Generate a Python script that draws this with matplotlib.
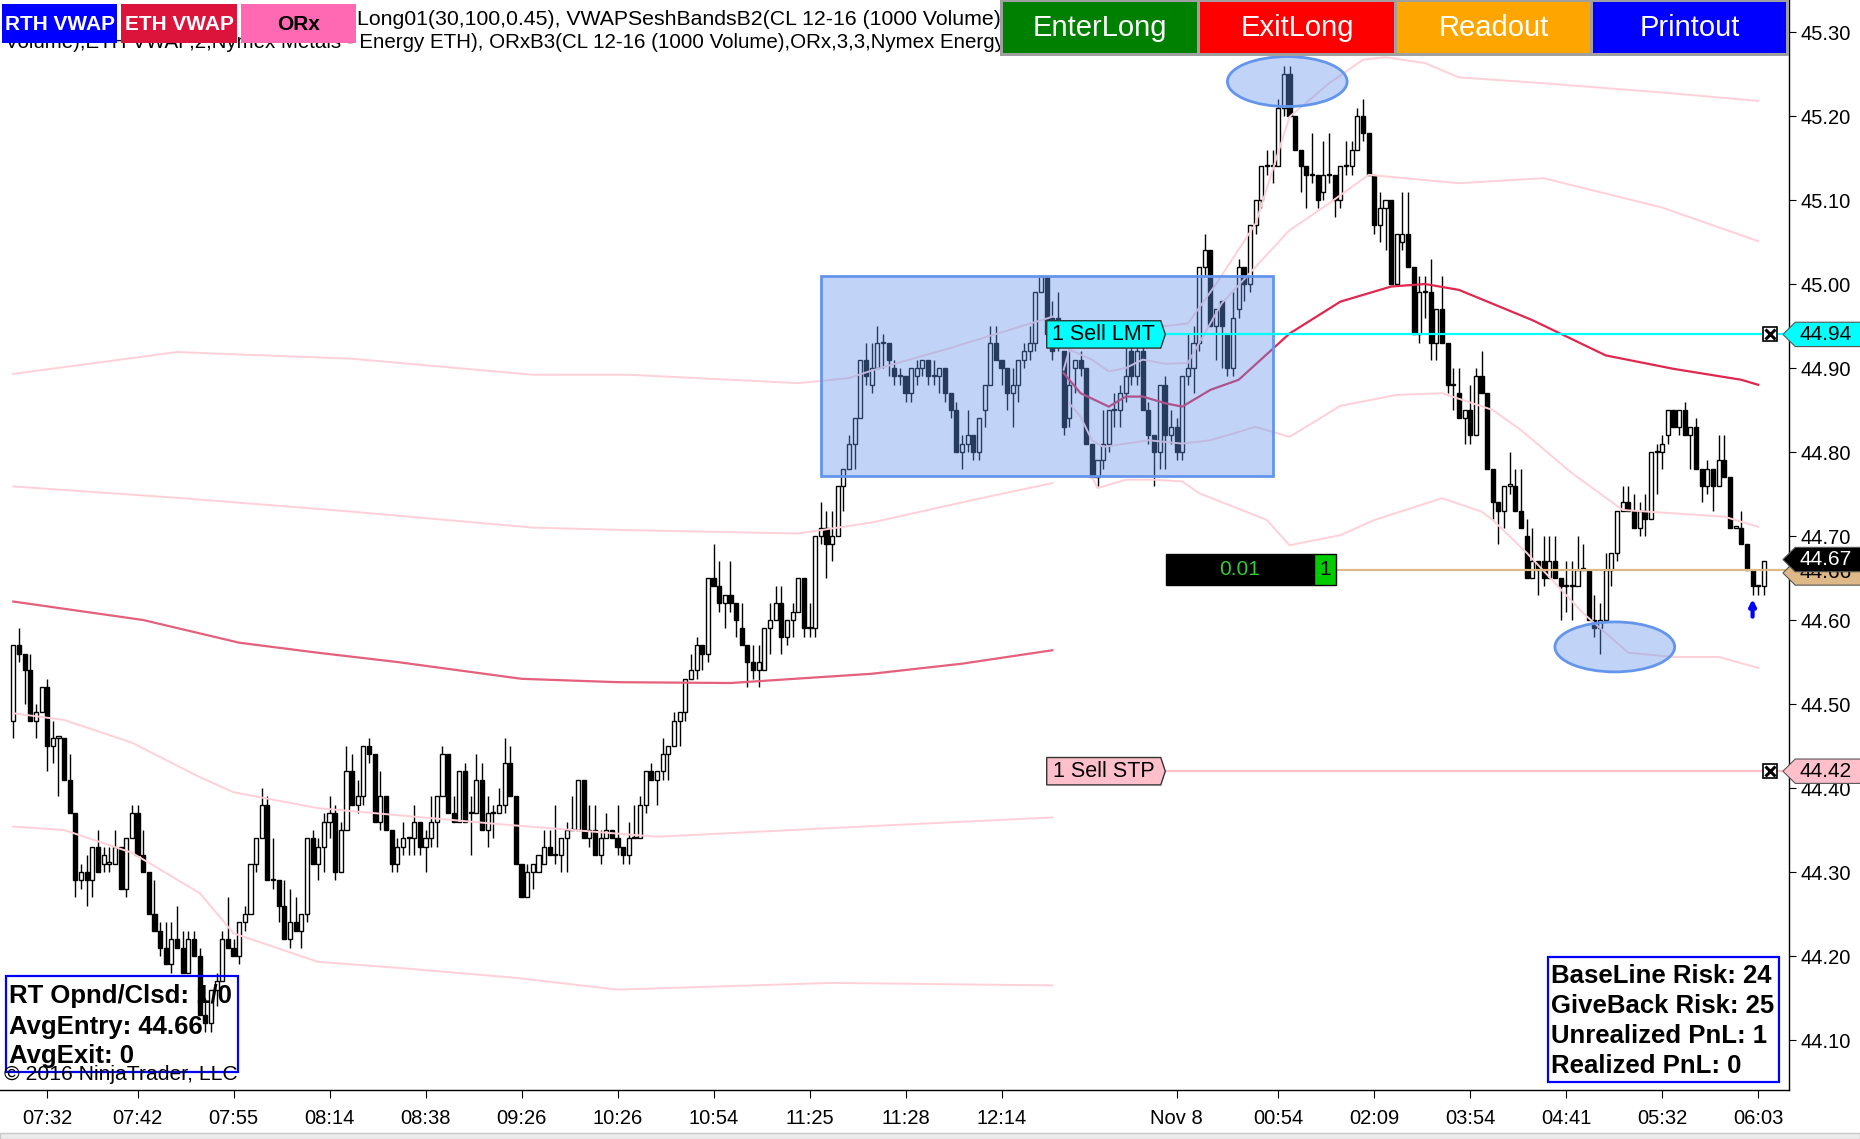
import matplotlib
matplotlib.use('Agg')
import matplotlib.pyplot as plt
from matplotlib.patches import Rectangle, Ellipse, Polygon
from matplotlib.transforms import blended_transform_factory
import numpy as np

plt.rcParams['font.family'] = ['Liberation Sans', 'DejaVu Sans']

# CL 12-16 (1000 Volume) bars, prices in cents above 44.00
open_c = [
    48, 57, 56, 54, 48, 49, 52, 45, 46, 46,
    41, 37, 29, 30, 29, 33, 31, 31, 31, 33,
    28, 34, 37, 32, 30, 25, 23, 21, 19, 22,
    21, 18, 22, 20, 13, 12, 16, 17, 22, 21,
    20, 24, 25, 31, 34, 38, 29, 29, 26, 22,
    24, 23, 25, 34, 31, 33, 36, 37, 30, 35,
    42, 38, 39, 45, 44, 36, 39, 35, 31, 33,
    34, 34, 36, 33, 34, 36, 39, 44, 37, 36,
    42, 37, 37, 41, 35, 37, 37, 38, 43, 39,
    31, 27, 30, 30, 31, 33, 32, 32, 34, 35,
    35, 41, 34, 35, 32, 34, 35, 34, 33, 32,
    34, 34, 38, 42, 41, 42, 44, 45, 48, 49,
    53, 54, 57, 56, 65, 64, 62, 63, 62, 59,
    57, 55, 54, 54, 59, 60, 62, 58, 60, 61,
    65, 59, 59, 70, 71, 69, 70, 76, 78, 81,
    84, 91, 88, 90, 93, 93, 90, 89, 89, 87,
    89, 90, 91, 89, 89, 90, 87, 85, 80, 81,
    82, 80, 85, 88, 93, 91, 90, 87, 88, 91,
    92, 93, 99, 101, 96, 96, 92, 84, 90, 91,
    90, 81, 77, 79, 81, 85, 85, 87, 92, 89,
    92, 85, 82, 80, 88, 82, 83, 80, 89, 90,
    93, 102, 104, 95, 98, 94, 90, 97, 102, 100,
    107, 110, 114, 114, 114, 121, 125, 120, 116, 114,
    113, 113, 111, 113, 113, 110, 114, 114, 116, 120,
    118, 113, 107, 109, 110, 100, 105, 106, 102, 94,
    99, 99, 93, 97, 93, 88, 87, 84, 85, 82,
    89, 87, 78, 74, 73, 76, 76, 73, 70, 65,
    67, 67, 65, 67, 65, 64, 64, 64, 66, 66,
    60, 59, 60, 66, 68, 73, 74, 73, 71, 73,
    72, 80, 80, 82, 85, 83, 85, 82, 83, 78,
    76, 78, 76, 79, 77, 71, 71, 69, 66, 64,
    64]
high_c = [
    57, 59, 56, 56, 50, 52, 53, 48, 46, 46,
    44, 37, 31, 32, 33, 35, 33, 33, 35, 33,
    34, 38, 38, 35, 30, 29, 24, 24, 24, 26,
    23, 23, 23, 21, 15, 16, 18, 23, 27, 22,
    24, 26, 31, 34, 40, 39, 34, 29, 29, 28,
    27, 25, 34, 35, 34, 37, 39, 38, 36, 45,
    44, 41, 45, 46, 44, 42, 39, 35, 34, 36,
    34, 38, 36, 35, 39, 39, 45, 44, 39, 42,
    43, 39, 44, 43, 39, 38, 40, 46, 45, 39,
    31, 31, 31, 32, 35, 35, 38, 34, 36, 39,
    41, 41, 38, 38, 35, 37, 35, 38, 33, 36,
    38, 39, 42, 43, 42, 46, 45, 49, 49, 53,
    56, 58, 57, 65, 69, 67, 63, 67, 62, 62,
    57, 57, 57, 59, 62, 64, 64, 60, 62, 65,
    65, 62, 70, 74, 73, 73, 76, 78, 82, 84,
    91, 93, 93, 95, 94, 93, 91, 90, 89, 90,
    91, 91, 91, 91, 90, 90, 87, 86, 82, 85,
    82, 84, 88, 95, 95, 91, 90, 90, 91, 93,
    95, 99, 101, 101, 98, 99, 92, 92, 91, 92,
    90, 81, 79, 85, 85, 87, 88, 93, 93, 94,
    93, 86, 82, 88, 89, 85, 84, 89, 94, 95,
    102, 106, 104, 97, 98, 94, 99, 103, 102, 107,
    110, 114, 116, 116, 122, 126, 126, 120, 116, 114,
    118, 113, 117, 118, 113, 114, 117, 117, 121, 122,
    118, 113, 111, 110, 110, 106, 111, 111, 102, 101,
    101, 103, 97, 101, 93, 90, 90, 85, 88, 90,
    92, 87, 78, 74, 76, 80, 78, 78, 72, 71,
    67, 70, 70, 70, 65, 67, 67, 70, 69, 66,
    63, 62, 68, 68, 73, 76, 76, 75, 74, 75,
    80, 81, 82, 85, 85, 85, 86, 83, 84, 78,
    79, 78, 82, 82, 77, 71, 73, 69, 66, 64,
    67]
low_c = [
    46, 55, 50, 48, 46, 49, 42, 43, 39, 41,
    37, 27, 28, 26, 27, 30, 30, 30, 31, 28,
    27, 34, 32, 30, 25, 23, 20, 19, 18, 21,
    18, 18, 20, 13, 11, 11, 14, 17, 21, 20,
    19, 23, 25, 30, 34, 29, 28, 24, 22, 21,
    23, 21, 24, 31, 29, 30, 34, 29, 30, 35,
    38, 37, 38, 43, 36, 35, 35, 30, 30, 32,
    32, 32, 32, 30, 33, 33, 39, 37, 36, 36,
    36, 32, 37, 35, 33, 34, 37, 37, 39, 31,
    27, 27, 28, 30, 31, 32, 31, 30, 30, 35,
    35, 34, 33, 32, 31, 34, 34, 32, 31, 31,
    34, 34, 37, 41, 38, 41, 41, 45, 45, 48,
    53, 53, 54, 55, 64, 61, 59, 61, 58, 57,
    52, 53, 52, 54, 56, 60, 56, 57, 58, 61,
    58, 58, 58, 69, 65, 67, 70, 73, 78, 78,
    84, 88, 87, 90, 90, 89, 88, 88, 86, 86,
    88, 89, 88, 88, 87, 86, 84, 80, 78, 80,
    79, 79, 83, 88, 91, 88, 85, 83, 86, 90,
    91, 92, 99, 93, 91, 92, 82, 83, 87, 89,
    81, 77, 76, 78, 80, 83, 83, 86, 88, 88,
    85, 81, 76, 78, 78, 81, 79, 79, 88, 87,
    92, 101, 95, 91, 90, 89, 89, 96, 98, 99,
    106, 109, 113, 112, 114, 120, 120, 116, 111, 109,
    112, 109, 110, 112, 108, 109, 113, 113, 116, 117,
    113, 106, 105, 104, 100, 100, 104, 102, 94, 93,
    96, 91, 91, 93, 87, 85, 84, 81, 81, 82,
    87, 78, 72, 69, 71, 75, 73, 71, 65, 65,
    63, 64, 65, 65, 60, 61, 60, 64, 66, 60,
    58, 56, 60, 64, 67, 73, 73, 71, 70, 70,
    72, 75, 78, 81, 83, 82, 82, 78, 78, 74,
    75, 73, 76, 77, 71, 71, 69, 66, 63, 63,
    63]
close_c = [
    57, 56, 54, 48, 49, 52, 45, 46, 46, 41,
    37, 29, 30, 29, 33, 30, 32, 31, 33, 28,
    34, 37, 32, 30, 25, 23, 21, 19, 22, 21,
    18, 22, 20, 13, 12, 16, 17, 22, 21, 20,
    24, 25, 31, 34, 38, 29, 29, 26, 22, 24,
    23, 25, 34, 31, 33, 36, 37, 30, 35, 42,
    38, 39, 45, 44, 36, 39, 35, 31, 33, 34,
    34, 36, 33, 34, 36, 39, 44, 37, 36, 42,
    36, 37, 41, 35, 37, 37, 38, 43, 39, 31,
    27, 30, 31, 32, 33, 32, 32, 34, 35, 35,
    41, 34, 35, 32, 34, 35, 34, 33, 32, 34,
    34, 38, 42, 41, 42, 44, 45, 48, 49, 53,
    54, 57, 56, 65, 64, 62, 63, 62, 60, 57,
    55, 54, 55, 59, 60, 62, 58, 60, 61, 65,
    59, 59, 70, 71, 69, 70, 76, 78, 81, 84,
    91, 89, 90, 93, 93, 91, 89, 89, 87, 90,
    90, 91, 89, 89, 90, 87, 85, 80, 81, 82,
    80, 84, 88, 93, 91, 90, 87, 88, 91, 92,
    93, 99, 101, 94, 92, 93, 83, 88, 91, 90,
    81, 77, 79, 81, 85, 85, 87, 89, 89, 92,
    85, 82, 80, 88, 82, 83, 80, 89, 90, 93,
    102, 104, 95, 97, 95, 90, 96, 102, 100, 107,
    110, 114, 114, 114, 121, 125, 120, 116, 114, 113,
    113, 110, 113, 113, 110, 114, 114, 116, 120, 118,
    113, 107, 109, 110, 100, 106, 106, 102, 94, 99,
    99, 93, 97, 93, 88, 88, 84, 85, 82, 89,
    87, 78, 74, 73, 76, 76, 73, 71, 65, 67,
    66, 65, 67, 65, 64, 64, 64, 66, 66, 60,
    59, 60, 66, 68, 73, 74, 73, 71, 73, 72,
    80, 80, 81, 85, 83, 85, 82, 83, 78, 76,
    78, 76, 79, 77, 71, 71, 69, 66, 64, 64,
    67]

tick_bars = [6, 22, 39, 56, 73, 90, 107, 124, 141, 158, 175, 206, 224, 241, 258, 275, 292, 309]
tick_labels = ['07:32', '07:42', '07:55', '08:14', '08:38', '09:26', '10:26', '10:54', '11:25',
               '11:28', '12:14', 'Nov 8', '00:54', '02:09', '03:54', '04:41', '05:32', '06:03']

# session 1 vwap + bands (read at a few bars)
s1_mid_x = [0, 23, 40, 54, 68, 90, 107, 127, 152, 168, 184]
s1_mid = [44.622, 44.600, 44.573, 44.561, 44.550, 44.530, 44.526, 44.525, 44.536, 44.548, 44.564]
s1_up1_x = [0, 30, 60, 92, 109, 139, 152, 170, 184]
s1_up1 = [44.759, 44.745, 44.729, 44.710, 44.707, 44.703, 44.716, 44.743, 44.763]
s1_up2_x = [0, 29, 60, 92, 109, 139, 148, 152, 166, 184]
s1_up2 = [44.893, 44.919, 44.911, 44.892, 44.892, 44.882, 44.888, 44.897, 44.924, 44.961]
s1_dn1_x = [0, 9, 21, 33, 39, 54, 86, 114, 153, 184]
s1_dn1 = [44.489, 44.481, 44.454, 44.413, 44.395, 44.376, 44.357, 44.342, 44.355, 44.365]
s1_dn2_x = [0, 9, 21, 33, 39, 54, 68, 89, 107, 145, 184]
s1_dn2 = [44.354, 44.350, 44.323, 44.275, 44.227, 44.193, 44.186, 44.174, 44.160, 44.168, 44.165]

# session 2 vwap + bands
s2_mid_x = [186, 189, 194, 197, 200, 204, 207, 212, 217, 226, 235, 244, 250, 256, 269, 282, 294, 306, 309]
s2_mid = [44.894, 44.870, 44.854, 44.866, 44.866, 44.858, 44.854, 44.874, 44.886, 44.941, 44.979,
          44.997, 45.000, 44.993, 44.957, 44.915, 44.899, 44.886, 44.880]
s2_up1_x = [186, 187, 191, 194, 197, 200, 204, 208, 214, 226, 233, 240, 256, 271, 292, 309]
s2_up1 = [44.898, 44.922, 44.910, 44.896, 44.900, 44.910, 44.905, 44.906, 44.977, 45.064, 45.096,
          45.130, 45.120, 45.126, 45.091, 45.051]
s2_up2_x = [190, 197, 204, 208, 213, 220, 226, 233, 239, 243, 250, 256, 271, 292, 309]
s2_up2 = [44.940, 44.955, 44.950, 44.953, 45.000, 45.072, 45.199, 45.239, 45.267, 45.270, 45.263,
          45.246, 45.239, 45.228, 45.218]
s2_dn1_x = [187, 189, 191, 193, 197, 201, 207, 212, 220, 226, 235, 245, 253, 262, 267, 276, 285, 294, 303, 309]
s2_dn1 = [44.858, 44.842, 44.814, 44.806, 44.810, 44.814, 44.810, 44.814, 44.830, 44.818, 44.855,
          44.868, 44.870, 44.850, 44.826, 44.775, 44.731, 44.727, 44.723, 44.711]
s2_dn2_x = [191, 192, 197, 202, 207, 210, 222, 226, 235, 241, 253, 260, 262, 268, 278, 286, 294, 302, 309]
s2_dn2 = [44.770, 44.757, 44.767, 44.767, 44.765, 44.751, 44.719, 44.689, 44.701, 44.719, 44.745,
          44.729, 44.719, 44.680, 44.608, 44.561, 44.556, 44.556, 44.543]

sell_lmt = 44.94
sell_stp = 44.42
avg_entry = 44.66
last_price = 44.67
entry_bar = 308

box_bars = (143, 223)
box_prices = (44.772, 45.010)
ellipses = [(225.6, 45.241), (283.6, 44.568)]

W, H = 1860, 1139
fig = plt.figure(figsize=(W / 100, H / 100), dpi=100)
ax = fig.add_axes([0, 49 / H, 1789 / W, 1090 / H])


def fx(x):
    return x / W


def fy(y):
    return 1 - y / H


opens = 44 + np.array(open_c) / 100
highs = 44 + np.array(high_c) / 100
lows = 44 + np.array(low_c) / 100
closes = 44 + np.array(close_c) / 100
xs = np.arange(len(opens))
up = closes >= opens

ax.vlines(xs, lows, highs, color='black', lw=1.0, zorder=2)
body_h = np.maximum(np.abs(closes - opens), 0.0015)
ax.bar(xs, body_h, bottom=np.minimum(opens, closes), width=0.72,
       color=np.where(up, 'white', 'black'), edgecolor='black', linewidth=1.0, zorder=3)

red1, red2, pink = '#e4607c', '#e0284f', '#ffd0d8'
ax.plot(s1_mid_x, s1_mid, color=red1, lw=1.6, zorder=4)
for bx, by in [(s1_up1_x, s1_up1), (s1_up2_x, s1_up2), (s1_dn1_x, s1_dn1), (s1_dn2_x, s1_dn2)]:
    ax.plot(bx, by, color=pink, lw=1.4, zorder=4)
ax.plot(s2_mid_x, s2_mid, color=red2, lw=1.6, zorder=4)
for bx, by in [(s2_up1_x, s2_up1), (s2_up2_x, s2_up2), (s2_dn1_x, s2_dn1), (s2_dn2_x, s2_dn2)]:
    ax.plot(bx, by, color=pink, lw=1.4, zorder=4)

# drawn regions
blue_fill = (100 / 255, 149 / 255, 237 / 255, 0.4)
ax.add_patch(Rectangle((box_bars[0], box_prices[0]), box_bars[1] - box_bars[0],
                       box_prices[1] - box_prices[0], facecolor=blue_fill,
                       edgecolor='#6495ed', lw=2, zorder=5))
for ex, ey in ellipses:
    ax.add_patch(Ellipse((ex, ey), 21.2, 0.0595, facecolor=blue_fill,
                         edgecolor='#6495ed', lw=2, zorder=5))

x_right = 314.45
ax.set_xlim(-2.355, x_right)
ax.set_ylim(44.0405, 45.3381)

# orders
lab_x0, lab_x1, lab_tip = 183.0, 203.2, 204.0
lab_h = 0.0163
for price, col, txt in [(sell_lmt, '#00ffff', '1 Sell LMT'), (sell_stp, '#ffc0cb', '1 Sell STP')]:
    ax.plot([lab_tip, x_right], [price, price], color=col, lw=1.6, zorder=6)
    ax.add_patch(Polygon([(lab_x0, price - lab_h), (lab_x1, price - lab_h), (lab_tip, price),
                          (lab_x1, price + lab_h), (lab_x0, price + lab_h)],
                         closed=True, facecolor=col, edgecolor='#333333', lw=1, zorder=7))
    ax.text((lab_x0 + lab_x1) / 2, price, txt, fontsize=15.5, ha='center', va='center',
            color='black', zorder=8)

# position line
ax.plot([234.2, x_right], [avg_entry, avg_entry], color='#deb887', lw=1.6, zorder=6)
ax.add_patch(Rectangle((204.1, avg_entry - 0.0189), 26.2, 0.0378, facecolor='black',
                       edgecolor='black', zorder=7))
ax.add_patch(Rectangle((230.3, avg_entry - 0.0189), 3.9, 0.0378, facecolor='#00cc00',
                       edgecolor='black', lw=1, zorder=7))
ax.text(217.2, avg_entry, '0.01', fontsize=15, color='#33cc33', ha='center', va='center', zorder=8)
ax.text(232.25, avg_entry, '1', fontsize=15, color='black', ha='center', va='center', zorder=8)

ax.annotate('', xy=(entry_bar, 44.625), xytext=(entry_bar, 44.604),
            arrowprops=dict(arrowstyle='-|>', color='#0000ff', lw=3, mutation_scale=9,
                            shrinkA=0, shrinkB=0), zorder=8)

trans = blended_transform_factory(ax.transAxes, ax.transData)
for price in [sell_lmt, sell_stp]:
    ax.plot([0.9894], [price], transform=trans, marker='s', ms=10, mfc='white', mec='black',
            mew=1.2, zorder=9)
    ax.plot([0.9894], [price], transform=trans, marker='x', ms=6.5, mec='black', mew=2.2, zorder=10)

tag_h = 0.0145
for price, col, tcol, dy in [(sell_lmt, '#00ffff', 'black', 0), (avg_entry, '#deb887', 'black', -0.004),
                             (last_price, 'black', 'white', 0.002), (sell_stp, '#ffc0cb', 'black', 0)]:
    yc = price + dy
    ax.add_patch(Polygon([(0.9966, yc), (1.0035, yc + tag_h), (1.04, yc + tag_h),
                          (1.04, yc - tag_h), (1.0035, yc - tag_h)], closed=True,
                         transform=trans, facecolor=col, edgecolor='#555555', lw=0.8,
                         clip_on=False, zorder=11))
    ax.text(1.0205, yc, f'{price:.2f}', transform=trans, fontsize=15, color=tcol,
            ha='center', va='center', clip_on=False, zorder=11)

# axes
for s in ['left', 'top']:
    ax.spines[s].set_visible(False)
ax.spines['bottom'].set_linewidth(1)
ax.spines['right'].set_linewidth(1)
ax.yaxis.tick_right()
ax.set_yticks(np.round(np.arange(44.10, 45.31, 0.10), 2))
ax.yaxis.set_major_formatter(matplotlib.ticker.FormatStrFormatter('%.2f'))
ax.set_xticks(tick_bars)
ax.set_xticklabels(tick_labels)
ax.tick_params(axis='y', labelsize=14.5, length=5, pad=3, direction='out')
ax.tick_params(axis='x', labelsize=14.5, length=6, pad=8, direction='out')

# header
fig.text(fx(357), fy(25), 'Long01(30,100,0.45), VWAPSeshBandsB2(CL 12-16 (1000 Volume),',
         fontsize=15.3, va='baseline', zorder=3)
fig.text(fx(5), fy(48), 'Volume),ETH VWAP,2,Nymex Metals - Energy ETH), '
         'ORxB3(CL 12-16 (1000 Volume),ORx,3,3,Nymex Energy ETH)',
         fontsize=14.8, va='baseline', zorder=3)

for x0, x1, col, tcol, txt in [(2, 117, '#0000ff', 'white', 'RTH VWAP'),
                               (121, 237, '#dc143c', 'white', 'ETH VWAP'),
                               (241, 356, '#ff69b4', 'black', 'ORx')]:
    fig.add_artist(Rectangle((fx(x0), fy(43)), (x1 - x0) / W, 39 / H, facecolor=col,
                             edgecolor='none', transform=fig.transFigure, zorder=4))
    fig.text(fx((x0 + x1) / 2), fy(24), txt, color=tcol, fontsize=15, fontweight='bold',
             ha='center', va='center', zorder=5)

fig.add_artist(Rectangle((fx(1000), fy(56)), 789 / W, 56 / H, facecolor='#a0a0a0',
                         edgecolor='none', transform=fig.transFigure, zorder=4))
for x0, x1, col, txt in [(1003, 1197, '#008000', 'EnterLong'), (1200, 1394, '#ff0000', 'ExitLong'),
                         (1397, 1590, '#ffa500', 'Readout'), (1593, 1786, '#0000ff', 'Printout')]:
    fig.add_artist(Rectangle((fx(x0), fy(53)), (x1 - x0) / W, 51 / H, facecolor=col,
                             edgecolor='none', transform=fig.transFigure, zorder=5))
    fig.text(fx((x0 + x1) / 2), fy(28), txt, color='white', fontsize=21, ha='center',
             va='center', zorder=6)

# info boxes
fig.add_artist(Rectangle((fx(6), fy(1072)), 232 / W, 96 / H, facecolor='none', edgecolor='#0000ff',
                         lw=1.6, transform=fig.transFigure, zorder=4))
for yb, txt in [(1003, 'RT Opnd/Clsd: 1/0'), (1034, 'AvgEntry: 44.66'), (1063, 'AvgExit: 0')]:
    fig.text(fx(9), fy(yb), txt, fontsize=18.5, fontweight='bold', va='baseline', zorder=5)
fig.text(fx(4), fy(1080), '\u00a9 2016 NinjaTrader, LLC', fontsize=15.2, va='baseline', zorder=6)

fig.add_artist(Rectangle((fx(1548), fy(1082)), 231 / W, 125 / H, facecolor='white',
                         edgecolor='#0000ff', lw=1.6, transform=fig.transFigure, zorder=4))
for yb, txt in [(983, 'BaseLine Risk: 24'), (1013, 'GiveBack Risk: 25'),
                (1043, 'Unrealized PnL: 1'), (1073, 'Realized PnL: 0')]:
    fig.text(fx(1551), fy(yb), txt, fontsize=18.5, fontweight='bold', va='baseline', zorder=5)

fig.add_artist(Rectangle((0, 0), 1, 6 / H, facecolor='#ececec', edgecolor='#c8c8c8', lw=1,
                         transform=fig.transFigure, zorder=4))

fig.savefig('out.png', dpi=100)
